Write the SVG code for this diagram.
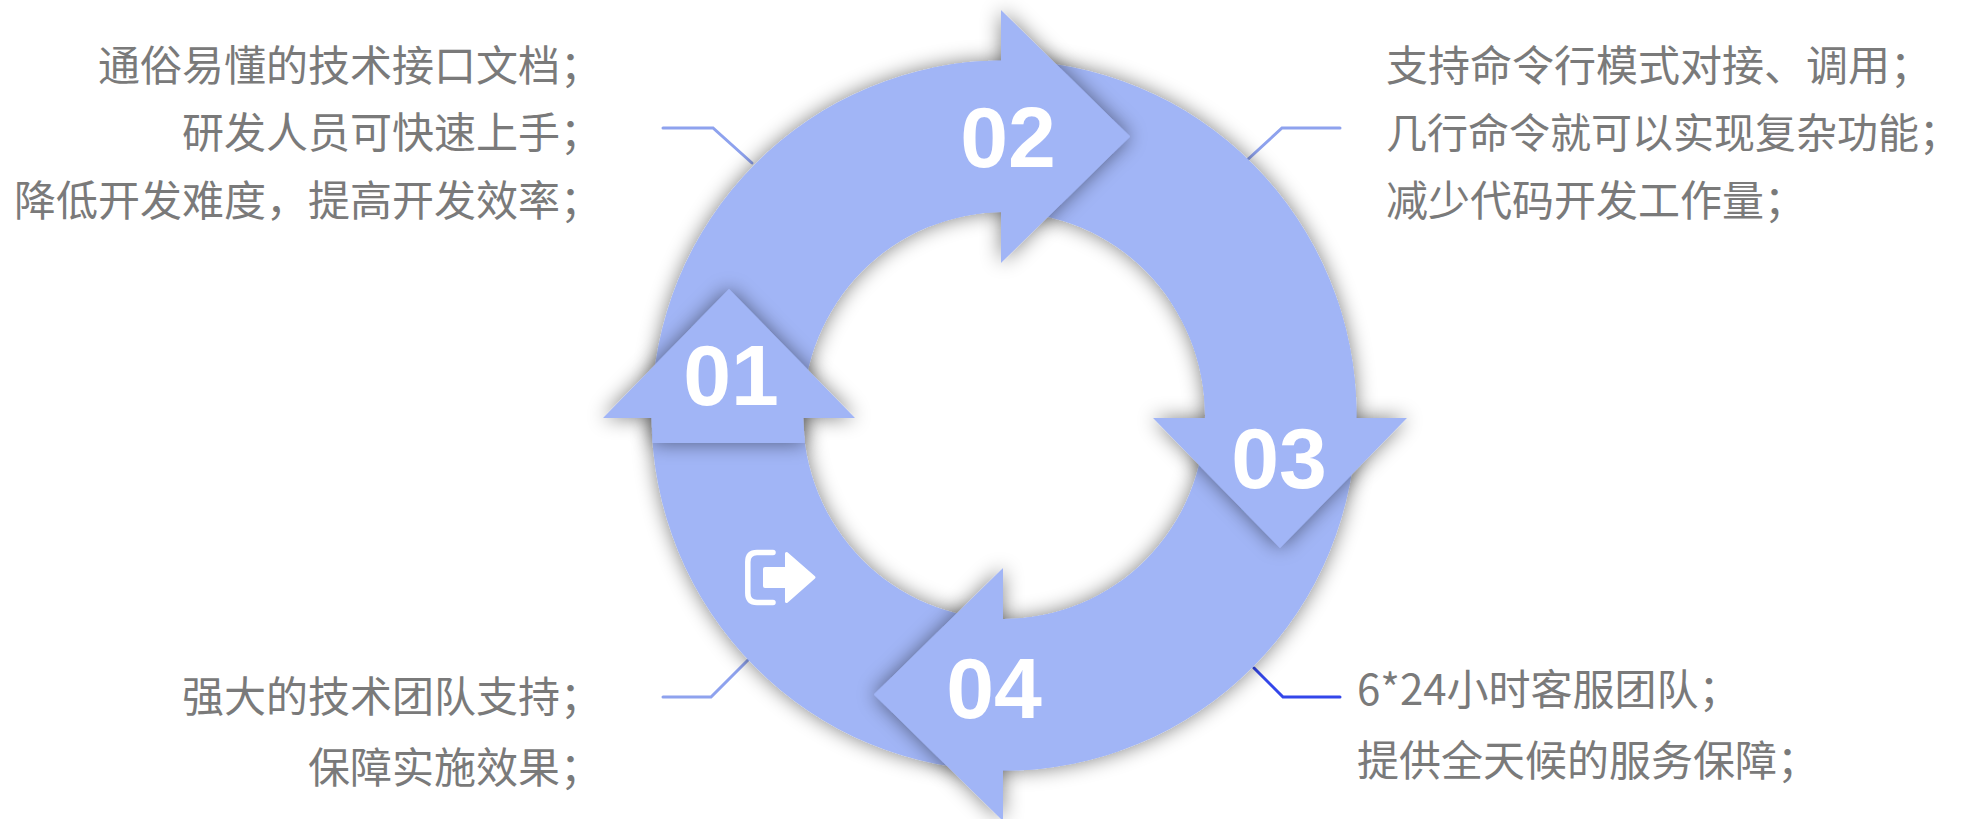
<svg xmlns="http://www.w3.org/2000/svg" xmlns:xlink="http://www.w3.org/1999/xlink" width="1962" height="819" viewBox="0 0 1962 819">
<style>
.body{fill:#A1B5F6}
.t{font-family:"Noto Sans CJK SC","Noto Sans",sans-serif;font-size:42px;fill:#7A7A7A}
.tr{text-anchor:end}
.num{font-family:"Liberation Sans",Arial,sans-serif;font-weight:bold;font-size:86px;fill:#FFFFFF;text-anchor:middle}
.conn{fill:none;stroke:#8EA2EE;stroke-width:3;stroke-linecap:round;stroke-linejoin:miter}
.conn.dark{stroke:#3346EA}
</style>
<defs>
<filter id="sh" x="-30%" y="-30%" width="160%" height="160%">
<feGaussianBlur in="SourceAlpha" stdDeviation="10"/>
<feComponentTransfer><feFuncA type="linear" slope="0.5"/></feComponentTransfer>
<feMerge><feMergeNode/><feMergeNode in="SourceGraphic"/></feMerge>
</filter>
<path id="ring" fill-rule="evenodd" d="M651.5 415.5A352.5 355 0 1 1 1356.5 415.5A352.5 355 0 1 1 651.5 415.5Z M803 415.5A201 203.5 0 1 0 1205 415.5A201 203.5 0 1 0 803 415.5Z"/>
<clipPath id="c02"><rect x="930" y="0" width="71" height="300"/></clipPath>
<clipPath id="c03"><rect x="1140" y="300" width="280" height="118"/></clipPath>
<clipPath id="c04"><rect x="1003" y="550" width="117" height="269"/></clipPath>
</defs>
<rect width="1962" height="819" fill="#FFFFFF"/>

<g id="connectors">
<polyline class="conn" points="663,128 713,128 752,163"/>
<polyline class="conn" points="1340,128 1282,128 1245,162"/>
<polyline class="conn" points="663,697 711,697 748,660"/>
<polyline class="conn dark" points="1340,697 1283,697 1254,668"/>
</g>

<g id="ring-bodies">
<use xlink:href="#ring" class="body" filter="url(#sh)"/>
</g>

<g id="node-01">
<path class="body" filter="url(#sh)" d="M603 418L729 289L855 418L803.2 418L804.8 443L652.6 443L651.6 418Z"/>
<text class="num" x="731" y="405">01</text>
<g id="icon-exit" fill="#FFFFFF">
<path d="M773 552.5H757Q747.8 552.5 747.8 562V593Q747.8 602.5 757 602.5H773" fill="none" stroke="#FFFFFF" stroke-width="5.5" stroke-linecap="round"/>
<rect x="763" y="567" width="25" height="21" rx="2"/>
<polygon points="786.5,553.5 814,577.3 786.5,601.5" stroke="#FFFFFF" stroke-width="3" stroke-linejoin="round"/>
</g>
</g>

<g id="node-02">
<path class="body" filter="url(#sh)" d="M1001 10L1130 136.5L1001 263Z"/>
<g clip-path="url(#c02)"><use xlink:href="#ring" class="body"/></g>
<text class="num" x="1008" y="167">02</text>
</g>

<g id="node-03">
<path class="body" filter="url(#sh)" d="M1153 418L1407 418L1280 548Z"/>
<g clip-path="url(#c03)"><use xlink:href="#ring" class="body"/></g>
<text class="num" x="1279" y="488">03</text>
</g>

<g id="node-04">
<path class="body" filter="url(#sh)" d="M1003 568L1003 821L874 694.5Z"/>
<g clip-path="url(#c04)"><use xlink:href="#ring" class="body"/></g>
<text class="num" x="994" y="718">04</text>
</g>

<g id="text-01">
<text class="t tr" x="602" y="81">通俗易懂的技术接口文档；</text>
<text class="t tr" x="602" y="148">研发人员可快速上手；</text>
<text class="t tr" x="602" y="216">降低开发难度，提高开发效率；</text>
</g>
<g id="text-02">
<text class="t" x="1386" y="81">支持命令行模式对接、调用；</text>
<text class="t" x="1386" y="148" style="font-size:41px">几行命令就可以实现复杂功能；</text>
<text class="t" x="1386" y="216">减少代码开发工作量；</text>
</g>
<g id="text-03">
<text class="t" x="1357" y="705">6*24小时客服团队；</text>
<text class="t" x="1357" y="776">提供全天候的服务保障；</text>
</g>
<g id="text-04">
<text class="t tr" x="602" y="712">强大的技术团队支持；</text>
<text class="t tr" x="602" y="783">保障实施效果；</text>
</g>
</svg>
